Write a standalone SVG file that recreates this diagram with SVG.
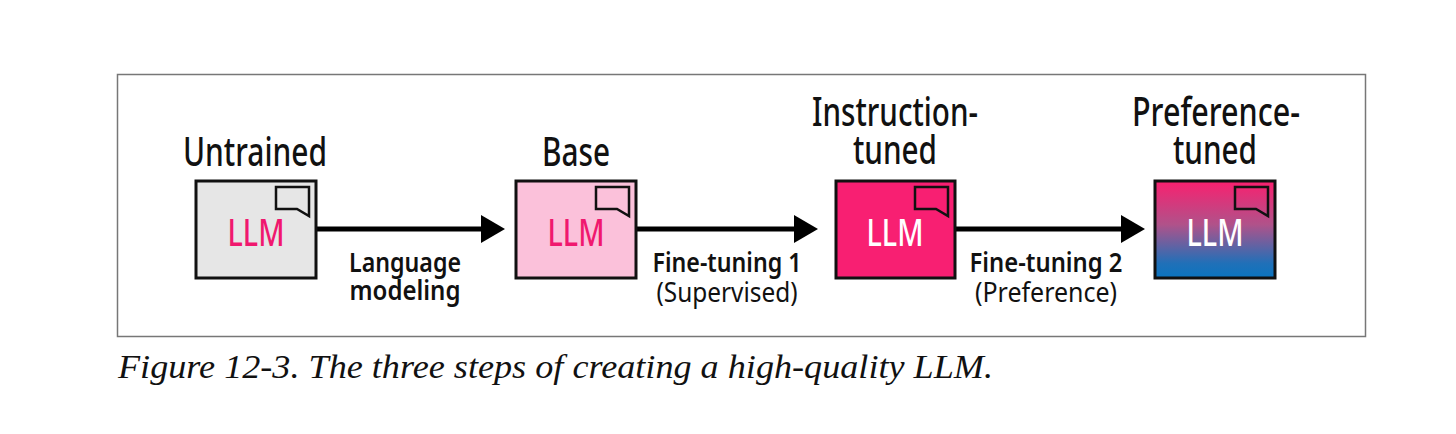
<svg xmlns="http://www.w3.org/2000/svg" width="1456" height="434" viewBox="0 0 1456 434">
  <style>
    .title { font-family: "Noto Sans", "DejaVu Sans", sans-serif; font-size: 40px; font-weight: 500; fill: #111; text-anchor: middle; }
    .llm { font-family: "Noto Sans", "DejaVu Sans", sans-serif; font-size: 38px; font-weight: 500; text-anchor: middle; }
    .lab { font-family: "Noto Sans", "DejaVu Sans", sans-serif; font-size: 27px; fill: #111; text-anchor: middle; }
    .semi { font-weight: 560; }
    .box { stroke: #111; stroke-width: 3; }
    .bubble { fill: none; stroke: #111; stroke-width: 2.5; stroke-linejoin: miter; }
    .conn { stroke: #000; stroke-width: 5; fill: none; }
    .cap { font-family: "Liberation Serif", serif; font-style: italic; font-size: 33px; fill: #111; }
  </style>
  <defs>
    <marker id="arrow" markerUnits="userSpaceOnUse" markerWidth="24" markerHeight="28" refX="4" refY="14" orient="auto">
      <path d="M0,0 L24,14 L0,28 Z" fill="#000"/>
    </marker>
    <linearGradient id="grad" x1="0" y1="0" x2="0" y2="1">
      <stop offset="0" stop-color="#f9206f"/>
      <stop offset="0.45" stop-color="#b0528a"/>
      <stop offset="0.85" stop-color="#2070b8"/>
      <stop offset="1" stop-color="#0a75c0"/>
    </linearGradient>
  </defs>
  <rect x="117.5" y="74.5" width="1248" height="262" fill="#fff" stroke="#777" stroke-width="1.5"/>

  <g id="connectors">
    <line class="conn" x1="316" y1="229" x2="485" y2="229" marker-end="url(#arrow)"/>
    <line class="conn" x1="636" y1="229" x2="798" y2="229" marker-end="url(#arrow)"/>
    <line class="conn" x1="955" y1="229" x2="1125" y2="229" marker-end="url(#arrow)"/>
    <text class="lab semi" x="405" y="272" textLength="112" lengthAdjust="spacingAndGlyphs">Language</text>
    <text class="lab semi" x="405" y="300" textLength="111" lengthAdjust="spacingAndGlyphs">modeling</text>
    <text class="lab semi" x="727" y="272" textLength="149" lengthAdjust="spacingAndGlyphs">Fine-tuning 1</text>
    <text class="lab" x="727" y="302" textLength="141" lengthAdjust="spacingAndGlyphs">(Supervised)</text>
    <text class="lab semi" x="1046" y="272" textLength="153" lengthAdjust="spacingAndGlyphs">Fine-tuning 2</text>
    <text class="lab" x="1046" y="302" textLength="142" lengthAdjust="spacingAndGlyphs">(Preference)</text>
  </g>

  <g id="untrained">
    <text class="title" x="255" y="166" textLength="144" lengthAdjust="spacingAndGlyphs">Untrained</text>
    <rect class="box" x="196" y="181" width="120" height="97" fill="#e6e6e6"/>
    <path class="bubble" d="M276,187 H309 V216 L297,209 H276 Z"/>
    <text class="llm" x="256" y="246" fill="#f0186e" textLength="57" lengthAdjust="spacingAndGlyphs">LLM</text>
  </g>

  <g id="base">
    <text class="title" x="576" y="166" textLength="68" lengthAdjust="spacingAndGlyphs">Base</text>
    <rect class="box" x="516" y="181" width="120" height="97" fill="#fbc1da"/>
    <path class="bubble" d="M596,187 H629 V216 L617,209 H596 Z"/>
    <text class="llm" x="576" y="246" fill="#f0186e" textLength="57" lengthAdjust="spacingAndGlyphs">LLM</text>
  </g>

  <g id="instruction-tuned">
    <text class="title" x="895" y="126" textLength="166" lengthAdjust="spacingAndGlyphs">Instruction-</text>
    <text class="title" x="895" y="164" textLength="84" lengthAdjust="spacingAndGlyphs">tuned</text>
    <rect class="box" x="836" y="181" width="119" height="97" fill="#f81f72"/>
    <path class="bubble" d="M915,187 H948 V216 L936,209 H915 Z"/>
    <text class="llm" x="895" y="246" fill="#fff" textLength="57" lengthAdjust="spacingAndGlyphs">LLM</text>
  </g>

  <g id="preference-tuned">
    <text class="title" x="1216" y="126" textLength="168" lengthAdjust="spacingAndGlyphs">Preference-</text>
    <text class="title" x="1215" y="164" textLength="84" lengthAdjust="spacingAndGlyphs">tuned</text>
    <rect class="box" x="1155" y="181" width="120" height="97" fill="url(#grad)"/>
    <path class="bubble" d="M1235,187 H1268 V216 L1256,209 H1235 Z"/>
    <text class="llm" x="1215" y="246" fill="#fff" textLength="57" lengthAdjust="spacingAndGlyphs">LLM</text>
  </g>

  <text class="cap" x="118" y="378" textLength="875" lengthAdjust="spacingAndGlyphs">Figure 12-3. The three steps of creating a high-quality LLM.</text>
</svg>
